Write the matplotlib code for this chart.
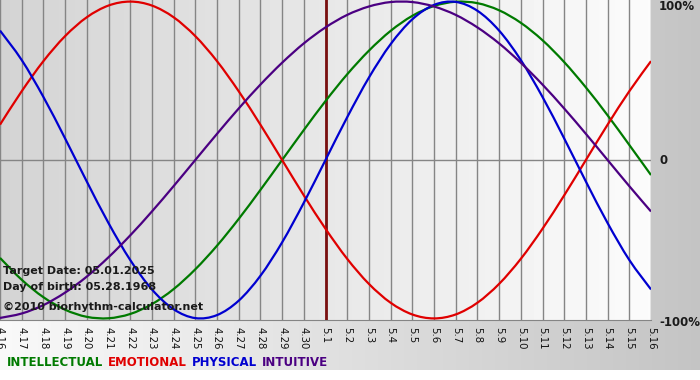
import numpy as np
import matplotlib
matplotlib.use('Agg')
import matplotlib.pyplot as plt
from matplotlib.path import Path
from matplotlib.patches import PathPatch

# data (one value per day, -1..1)
day_labels = ['4.16', '4.17', '4.18', '4.19', '4.20', '4.21', '4.22', '4.23', '4.24', '4.25',
              '4.26', '4.27', '4.28', '4.29', '4.30', '5.1', '5.2', '5.3', '5.4', '5.5',
              '5.6', '5.7', '5.8', '5.9', '5.10', '5.11', '5.12', '5.13', '5.14', '5.15', '5.16']
intellectual = [-0.618, -0.756, -0.866, -0.945, -0.990, -0.999, -0.972, -0.910, -0.815, -0.690,
                -0.541, -0.372, -0.189, 0.0, 0.189, 0.372, 0.541, 0.690, 0.815, 0.910,
                0.972, 0.999, 0.990, 0.945, 0.866, 0.756, 0.618, 0.458, 0.282, 0.095, -0.095]
emotional = [0.223, 0.434, 0.624, 0.782, 0.901, 0.975, 1.0, 0.975, 0.901, 0.782,
             0.624, 0.434, 0.223, 0.0, -0.223, -0.434, -0.624, -0.782, -0.901, -0.975,
             -1.0, -0.975, -0.901, -0.782, -0.624, -0.434, -0.223, 0.0, 0.223, 0.434, 0.624]
physical = [0.817, 0.631, 0.398, 0.136, -0.136, -0.398, -0.631, -0.817, -0.942, -0.998,
            -0.979, -0.888, -0.731, -0.520, -0.270, 0.0, 0.270, 0.520, 0.731, 0.888,
            0.979, 0.998, 0.942, 0.817, 0.631, 0.398, 0.136, -0.136, -0.398, -0.631, -0.817]
intuitive = [-0.997, -0.969, -0.916, -0.837, -0.736, -0.614, -0.476, -0.325, -0.165, 0.0,
             0.165, 0.325, 0.476, 0.614, 0.736, 0.837, 0.916, 0.969, 0.997, 0.997,
             0.969, 0.916, 0.837, 0.736, 0.614, 0.476, 0.325, 0.165, 0.0, -0.165, -0.325]
target_day = '5.1'

series = [('INTELLECTUAL', intellectual, '#007a00'),
          ('EMOTIONAL', emotional, '#e00000'),
          ('PHYSICAL', physical, '#0000d0'),
          ('INTUITIVE', intuitive, '#4b0082')]


def smooth_path(xs, ys):
    # cubic bezier through the points (catmull-rom tangents)
    xs = np.asarray(xs, float)
    ys = np.asarray(ys, float)
    n = len(xs)
    verts = [(xs[0], ys[0])]
    codes = [Path.MOVETO]
    for i in range(n - 1):
        p0 = np.array([xs[max(i - 1, 0)], ys[max(i - 1, 0)]])
        p1 = np.array([xs[i], ys[i]])
        p2 = np.array([xs[i + 1], ys[i + 1]])
        p3 = np.array([xs[min(i + 2, n - 1)], ys[min(i + 2, n - 1)]])
        c1 = p1 + (p2 - p0) / 6
        c2 = p2 - (p3 - p1) / 6
        verts += [tuple(c1), tuple(c2), tuple(p2)]
        codes += [Path.CURVE4] * 3
    return Path(verts, codes)


W, H = 700, 380
fig = plt.figure(figsize=(W / 100, H / 100), dpi=100)

# page background: light->gray gradient, white strip at the bottom
bg = fig.add_axes([0, 0, 1, 1])
grad = np.linspace(0.98, 0.77, W)
img = np.tile(grad, (H, 1))
img[370:, :] = 1.0
bg.imshow(np.dstack([img] * 3), aspect='auto', extent=(0, W, H, 0))
bg.set_xlim(0, W)
bg.set_ylim(H, 0)
bg.axis('off')

# plot area
pw, ph = 651, 320
ax = fig.add_axes([0, 1 - ph / H, pw / W, ph / H])
x = np.arange(len(day_labels))
ax.set_xlim(0, len(day_labels) - 1)
ax.set_ylim(-1.01, 1.01)
ax.imshow(np.tile(np.linspace(0.83, 0.985, 200), (2, 1)), cmap='gray', vmin=0, vmax=1,
          aspect='auto', extent=(0, len(day_labels) - 1, -1.01, 1.01), zorder=0)

for xi in x:
    ax.axvline(xi, color='#858585', lw=1, zorder=1)
ax.axhline(0, color='#858585', lw=1, zorder=1)
ax.axvline(day_labels.index(target_day), color='#7a1010', lw=2, zorder=3)

for name, vals, col in series:
    ax.add_patch(PathPatch(smooth_path(x, vals), facecolor='none', edgecolor=col, lw=1.6, zorder=4))

for s in ax.spines.values():
    s.set_visible(False)
ax.spines['bottom'].set_visible(True)
ax.spines['bottom'].set_color('#858585')
ax.set_yticks([])
ax.set_xticks(x)
ax.set_xticklabels(day_labels, rotation=270, fontsize=7.3, color='#111111')
ax.tick_params(axis='x', length=0, pad=5)

# info text
txt = dict(fontsize=8, fontweight='bold', color='#1a1a1a', transform=fig.transFigure)
fig.text(3 / W, 1 - 271 / H, 'Target Date: 05.01.2025', va='center', **txt)
fig.text(3 / W, 1 - 287 / H, 'Day of birth: 05.28.1968', va='center', **txt)
fig.text(3 / W, 1 - 307 / H, '\u00a92010 biorhythm-calculator.net', va='center', **txt)

# right axis labels
fig.text(659 / W, 1 - 7 / H, '100%', va='center', fontsize=8.5, fontweight='bold', color='#1a1a1a')
fig.text(659 / W, 1 - 161 / H, '0', va='center', fontsize=8.5, fontweight='bold', color='#1a1a1a')
fig.text(659 / W, 1 - 322 / H, '-100%', va='center', fontsize=8.5, fontweight='bold', color='#1a1a1a')

# legend words
xpos = 7
r = fig.canvas.get_renderer()
for name, vals, col in series:
    t = fig.text(xpos / W, 1 - 362 / H, name, va='center', fontsize=8.5, fontweight='bold', color=col)
    bb = t.get_window_extent(renderer=r)
    xpos += bb.width + 5

fig.savefig('out.png', dpi=100)
